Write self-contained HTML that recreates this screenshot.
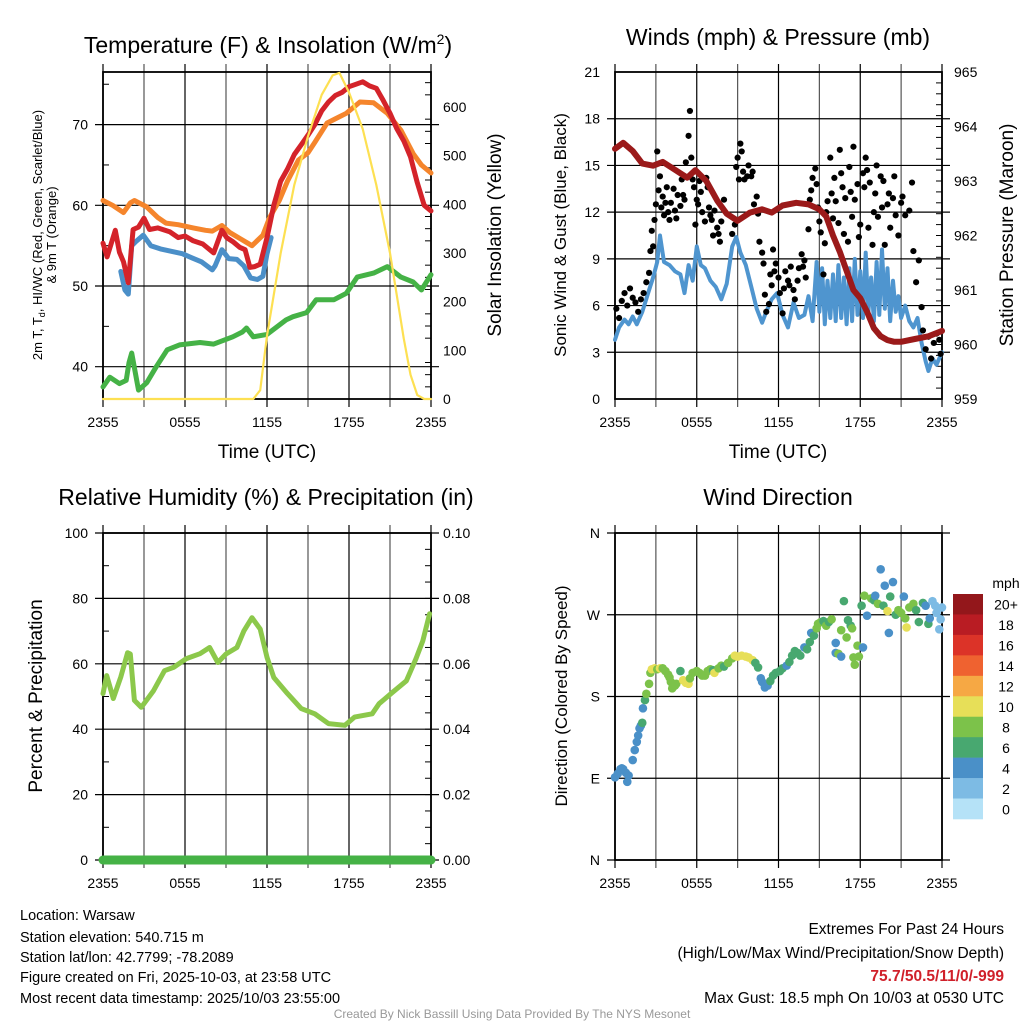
<!DOCTYPE html>
<html><head><meta charset="utf-8">
<style>
html,body{margin:0;padding:0;background:#fff;}
svg{display:block;font-family:"Liberation Sans",sans-serif;}
</style></head>
<body>
<svg id="fig" width="1024" height="1024" viewBox="0 0 1024 1024" xmlns="http://www.w3.org/2000/svg">
<rect width="1024" height="1024" fill="#fff"/>
<g id="layer"></g>
<text x="268" y="53" font-size="23" text-anchor="middle">Temperature (F) &amp; Insolation (W/m<tspan font-size="14" dy="-9">2</tspan><tspan dy="9">)</tspan></text>
<text x="778" y="45" font-size="23" text-anchor="middle">Winds (mph) &amp; Pressure (mb)</text>
<text x="266" y="505" font-size="23" text-anchor="middle">Relative Humidity (%) &amp; Precipitation (in)</text>
<text x="778" y="505" font-size="23" text-anchor="middle">Wind Direction</text>

<text x="267" y="458" font-size="19" text-anchor="middle">Time (UTC)</text>
<text x="778" y="458" font-size="19" text-anchor="middle">Time (UTC)</text>

<text font-size="13" text-anchor="middle" transform="translate(42,235) rotate(-90)">2m T, T<tspan font-size="9" dy="3">d</tspan><tspan dy="-3">, HI/WC (Red, Green, Scarlet/Blue)</tspan></text>
<text font-size="13" text-anchor="middle" transform="translate(56,235) rotate(-90)">&amp; 9m T (Orange)</text>
<text font-size="19" text-anchor="middle" transform="translate(501,235) rotate(-90)">Solar Insolation (Yellow)</text>
<text font-size="17" text-anchor="middle" transform="translate(566,235) rotate(-90)">Sonic Wind &amp; Gust (Blue, Black)</text>
<text font-size="19" text-anchor="middle" transform="translate(1013,235) rotate(-90)">Station Pressure (Maroon)</text>
<text font-size="19" text-anchor="middle" transform="translate(42,696) rotate(-90)">Percent &amp; Precipitation</text>
<text font-size="17" text-anchor="middle" transform="translate(567,696) rotate(-90)">Direction (Colored By Speed)</text>

<g font-size="14.5">
<text x="20" y="920">Location: Warsaw</text>
<text x="20" y="942">Station elevation: 540.715 m</text>
<text x="20" y="962">Station lat/lon: 42.7799; -78.2089</text>
<text x="20" y="982">Figure created on Fri, 2025-10-03, at 23:58 UTC</text>
<text x="20" y="1003">Most recent data timestamp: 2025/10/03 23:55:00</text>
</g>
<g font-size="15.5" text-anchor="end">
<text x="1004" y="934">Extremes For Past 24 Hours</text>
<text x="1004" y="958">(High/Low/Max Wind/Precipitation/Snow Depth)</text>
<text x="1004" y="981" fill="#d0202a" font-weight="bold">75.7/50.5/11/0/-999</text>
<text x="1004" y="1003">Max Gust: 18.5 mph On 10/03 at 0530 UTC</text>
</g>
<text x="512" y="1018" font-size="12" fill="#999" text-anchor="middle">Created By Nick Bassill Using Data Provided By The NYS Mesonet</text>
</svg>
<script>
// ---------- data ----------
const timeLabels = ["2355","0555","1155","1755","2355"];
const tempTicks = [40,50,60,70];
const solTicks = [0,100,200,300,400,500,600];
const windTicks = [0,3,6,9,12,15,18,21];
const presTicks = [959,960,961,962,963,964,965];
const rhTicks = [0,20,40,60,80,100];
const precipTicks = ["0.00","0.02","0.04","0.06","0.08","0.10"];
const dirTicks = ["N","E","S","W","N"];

const redH = [0,0.3,0.9,1.2,1.5,1.85,2.2,2.6,3.0,3.4,4.0,4.9,5.5,6.0,6.6,7.3,8.1,8.7,9.05,9.5,10,10.4,10.75,11.1,11.5,12,12.5,13,13.5,14,14.5,15,15.5,16,16.5,17,17.5,18,18.5,19,19.5,20,20.5,21,21.5,22,22.5,23,23.5,24];
const redT = [55.3,53.6,56.9,54.2,53,50.4,57,57.3,58.4,57,57.2,56.7,56,56.2,55.6,55.2,54.1,56.9,56,55.5,54.8,54.5,52.3,52.4,52.7,56,60,63,64.5,66.3,67.5,68.7,70,71.7,72.8,73.6,74,74.7,75,75.3,74.8,74.5,73,71.4,69.5,68,66,62.8,60,59.3];
const orH = [0,0.7,1.5,2.0,2.3,3.2,4.0,4.6,5.5,6.6,7.5,8.0,8.7,9.3,10,10.9,11.7,12.2,12.9,13.5,14.3,15,15.5,16.4,17.1,17.8,18.8,19.8,20.8,21.8,22.7,23.3,24];
const orT = [60.6,60,59.1,60.3,60.6,59.8,58.5,57.8,57.6,57.2,56.9,56.8,57.5,56.6,55.9,55,56.3,58.5,60.6,63,65.6,66.5,67.8,70.2,70.8,71.4,72.8,72.7,71.4,69.3,66.4,65,64];
const blH = [1.3,1.6,1.85,2.1,2.4,2.95,3.5,4.2,5.0,5.8,6.5,7.2,8.0,8.2,8.7,9.2,9.8,10.3,10.8,11.3,11.7,12.0,12.3];
const blT = [51.8,49.5,49,55,55.5,56.3,55,54.6,54.3,54,53.5,53,52,52.5,54.5,53.4,53.3,52.5,51,50.8,51.2,54,56];
const dewH = [0,0.5,1.2,1.7,1.9,2.1,2.6,3.2,3.9,4.7,5.6,7.1,8.1,9.5,10.2,10.5,11,12,13.4,13.9,14.9,15.6,16.9,17.8,18.6,19.8,20.8,21.8,22.7,23.3,24];
const dewT = [37.5,38.7,37.9,38.3,40.5,41.7,37.1,38,40,42.1,42.7,43,42.8,43.7,44.3,44.8,43.7,44,45.8,46.2,46.7,48.3,48.3,49.1,51.1,51.6,52.4,51.1,50.5,49.5,51.4];
const solH = [0,11,11.5,12,13,14,15,16,16.8,17.3,18,19,20,21,22,22.5,23,23.5,24];
const solW = [0,0,18,130,300,440,540,625,665,670,630,555,440,300,125,50,8,0,0];

const windH = [0,0.3,0.7,1,1.3,1.6,2,2.5,2.8,3.1,3.3,3.6,4,4.4,4.8,5.1,5.4,5.7,6,6.3,6.6,7,7.4,7.8,8.2,8.6,8.9,9.2,9.6,10,10.4,10.8,11.1,11.5,11.9,12.3,12.7,13.1,13.5,13.9,14.2,14.5,14.8,15.0,15.2,15.4,15.6,15.8,16.0,16.2,16.4,16.6,16.8,17.0,17.2,17.4,17.6,17.8,18.0,18.2,18.4,18.6,18.8,19.0,19.2,19.4,19.6,19.8,20.0,20.2,20.4,20.6,20.8,21.0,21.3,21.6,21.9,22.2,22.5,22.8,23.0,23.3,23.6,24];
const windS = [3.8,4.6,5.1,4.8,5.3,4.8,5.6,7,7.8,8.8,10.5,8.8,8.6,8.2,8.0,6.8,8.6,7.6,9.8,8.6,8.4,7.6,7.2,6.4,7.4,9.8,10.4,9.4,8.6,7.2,5.8,4.9,5.6,6.4,6.8,5.4,4.6,6.2,5.2,5.4,6.6,5.0,8.8,5.6,8.4,4.8,7.6,5.2,8.0,5.0,8.6,5.2,7.8,4.8,8.4,5.0,9.0,5.4,8.2,5.2,9.4,5.6,7.8,5.0,8.8,5.4,9.6,5.8,8.4,5.0,7.6,5.6,6.6,5.2,6.0,5.0,4.6,5.2,3.6,2.4,1.8,2.6,2.2,3.0];
const gustH = [0.1,0.3,0.5,0.7,0.9,1.1,1.3,1.5,1.7,1.9,2.1,2.3,2.5,2.6,2.7,2.8,2.9,3.0,3.1,3.2,3.3,3.4,3.5,3.6,3.7,3.8,3.9,4.0,4.1,4.3,4.4,4.5,4.6,4.8,4.9,5.0,5.1,5.2,5.4,5.5,5.6,5.7,5.8,5.9,6.0,6.1,6.2,6.3,6.4,6.6,6.7,6.8,6.9,7.0,7.1,7.2,7.3,7.5,7.6,7.7,7.8,8.0,8.6,8.8,8.9,9.0,9.1,9.2,9.3,9.4,9.5,9.7,9.8,10.0,10.1,10.2,10.4,10.5,10.6,10.8,10.9,11.0,11.1,11.3,11.4,11.5,11.6,11.7,11.8,12.0,12.1,12.3,12.4,12.5,12.7,12.8,12.9,13.1,13.2,13.4,13.5,13.7,13.8,13.9,14.0,14.2,14.3,14.4,14.5,14.7,14.8,14.9,15.0,15.1,15.3,15.4,15.5,15.6,15.8,15.9,16.0,16.1,16.2,16.4,16.5,16.6,16.7,16.8,16.9,17.1,17.2,17.3,17.4,17.5,17.6,17.8,17.9,18.0,18.2,18.3,18.4,18.5,18.6,18.7,18.9,19.0,19.1,19.2,19.3,19.5,19.6,19.7,19.8,20.0,20.1,20.2,20.4,20.5,20.6,20.8,21.0,21.1,21.3,21.6,21.8,21.9,22.1,22.3,22.5,22.6,22.8,23.0,23.2,23.4,23.6,23.8,23.9];
const gustS = [5.8,5.2,6.3,6.8,6.0,7.1,6.5,6.2,5.6,6.4,6.8,7.5,8.1,9.5,10.8,9.8,11.5,12.5,15.9,13.4,14.3,12.3,13.0,11.8,12.6,13.6,12.0,11.5,12.6,13.5,12.1,11.6,13.1,12.4,14.1,13.1,12.8,15.2,16.9,18.5,15.5,14.1,13.6,11.2,12.8,12.5,14.0,13.3,12.0,11.4,14.2,13.6,12.3,11.8,11.5,10.5,12.1,11.0,10.6,10.1,11.4,12.8,10.6,11.2,14.9,15.5,14.1,16.4,15.9,14.6,14.1,14.3,15.0,14.3,14.6,12.5,13.0,11.9,10.1,9.4,8.7,6.7,5.6,6.1,8.0,7.3,9.6,8.2,8.7,7.8,6.8,5.5,7.1,8.2,7.6,7.3,8.5,7.0,6.4,7.6,8.4,9.3,8.5,8.9,7.8,10.9,12.8,13.4,14.2,14.8,13.8,12.3,11.4,10.7,8.0,10.0,12.0,12.7,15.5,13.2,11.6,14.2,12.7,11.3,16.0,14.5,13.6,10.6,12.9,10.1,14.9,13.3,11.7,16.2,12.8,13.8,10.4,11.2,14.5,13.6,15.5,14.7,11.0,13.9,9.9,12.0,13.2,15.0,11.7,14.3,12.3,14.0,9.9,12.5,13.2,11.0,12.9,14.3,11.8,10.5,12.6,13.0,11.8,12.1,13.9,9.5,7.5,8.9,5.9,4.4,3.2,4.0,2.6,3.6,4.2,3.8,2.9,4.3,3.8];
const presH = [0,0.6,1.3,2.0,2.8,3.5,4.5,5.3,5.9,6.7,7.5,8.2,9.0,9.9,10.8,11.5,12.3,13.3,14.2,15,15.5,16,16.5,17,17.5,18,18.5,19,19.5,20,20.5,21,22,23,24];
const presMb = [963.59,963.70,963.55,963.32,963.28,963.35,963.19,963.06,963.2,963.0,962.64,962.40,962.27,962.42,962.48,962.42,962.55,962.6,962.57,962.48,962.35,962.0,961.7,961.35,961.0,960.85,960.6,960.3,960.15,960.08,960.05,960.05,960.1,960.15,960.25];

const rhH = [0,0.27,0.75,1.3,1.8,2.0,2.3,2.8,3.7,4.5,5.2,6.1,7.1,7.8,8.4,9.0,9.8,10.3,10.9,11.5,12,12.5,13.5,14.5,15.5,16.5,17.7,18.4,19.7,20.2,21.2,22.2,22.9,23.4,23.9];
const rhP = [50.9,56.4,49.4,56,63.4,63,48.8,46.7,51.8,57.9,59,61.6,63.1,65,60.4,63,65,70,74.1,70.6,62,55.8,50.9,46.3,44.7,41.7,41.2,43.7,44.7,47.8,51.3,54.8,61.6,67,75.3];
const precipH = [0,24];
const precipIn = [0,0];

const dirH = [0.0,0.2,0.4,0.5,0.6,0.8,0.9,1.0,1.3,1.45,1.6,1.7,1.8,1.9,2.0,2.05,2.2,2.3,2.5,2.6,2.7,2.9,3.1,3.3,3.5,3.7,3.9,4.0,4.1,4.2,4.4,4.5,4.8,5.0,5.2,5.4,5.5,5.7,6.0,6.2,6.4,6.6,6.8,7.0,7.2,7.3,7.6,7.8,8.0,8.3,8.6,8.8,9.0,9.3,9.6,9.8,10.1,10.3,10.5,10.7,10.8,11.0,11.2,11.4,11.6,11.8,12.1,12.3,12.6,12.8,13.0,13.2,13.4,13.6,13.9,14.1,14.3,14.4,14.6,14.8,14.9,15.1,15.3,15.5,15.7,15.9,16.2,16.2,16.4,16.6,16.6,16.8,17.0,17.1,17.3,17.4,17.5,17.6,17.8,17.9,18.1,18.2,18.3,18.5,18.8,19.0,19.1,19.3,19.5,19.7,19.8,20.0,20.1,20.2,20.4,20.6,20.8,21.0,21.2,21.3,21.4,21.6,21.9,22.1,22.3,22.6,22.8,23.0,23.1,23.3,23.5,23.6,23.8,23.9,24.0];
const dirDeg = [91,95,100,101,100,96,86,93,110,121,130,137,145,148,151,167,176,183,194,206,210,211,210,211,211,208,204,201,196,189,192,194,208,198,195,194,200,206,208,206,203,203,208,210,209,206,211,214,213,217,222,225,224,225,224,223,220,217,212,200,196,190,192,197,203,206,208,211,214,218,225,230,228,225,234,232,240,250,247,255,260,262,263,258,262,265,239,228,227,224,253,285,245,264,258,255,223,215,236,224,280,234,291,269,288,286,291,282,320,280,302,274,250,290,306,270,275,272,290,266,256,278,282,275,262,283,280,260,266,285,280,272,254,265,278];
const dirSpd = [4,4,4,4,4,4,4,4,4,4,4,4,4,4,7,5,7,8,9,9,10,10,9,11,9,9,8,8,9,8,8,9,7,10,11,10,9,8,8,8,9,8,8,9,7,10,8,8,7,8,9,11,10,11,10,10,11,7,7,5,5,5,5,7,7,7,7,7,5,7,7,7,7,7,5,7,7,5,7,8,8,8,7,8,7,8,5,5,8,5,8,7,8,7,7,8,8,8,8,8,7,5,8,5,8,7,5,8,5,7,5,10,5,7,5,7,8,8,5,8,10,8,8,7,7,7,5,7,5,3,3,3,3,3,3];
const speedLabels = ["20+","18","16","14","12","10","8","6","4","2","0"];
const speedColors = ["#93171b","#b91c23","#dc3328","#ef6230","#f6a844","#e7df58","#7cc24a","#48a870","#4a90c8","#7dbbe4","#b5e2f7"];

// ---------- helpers ----------
const NS = "http://www.w3.org/2000/svg";
const layer = document.getElementById("layer");
function mk(tag, attrs, parent){
  const e = document.createElementNS(NS, tag);
  for (const k in attrs) e.setAttribute(k, attrs[k]);
  (parent||layer).appendChild(e);
  return e;
}
function scale(d0,d1,r0,r1){ return v => r0 + (v-d0)/(d1-d0)*(r1-r0); }
function linePath(xs, ys, sx, sy){
  const n = Math.min(xs.length, ys.length);
  let d = "";
  for (let i=0;i<n;i++) d += (i?"L":"M") + sx(xs[i]).toFixed(1) + "," + sy(ys[i]).toFixed(1);
  return d;
}
function addText(x,y,str,size,anchor,name){
  const t = mk("text",{x:x,y:y,"font-size":size,"text-anchor":anchor});
  t.textContent = str;
  
  
  return t;
}

function panel(name, L, T, R, B){
  const g = mk("g",{});
  
  
  return {g, L, T, R, B, sx: scale(0,24,L,R)};
}
function drawGrid(p, yVals, sy, leftLabels, rightVals, syR, rightLabels, minorR){
  const grid = mk("g",{stroke:"#000","stroke-width":"1.2"}, p.g);
  
  
  for (let h=0; h<=24; h+=3){
    const x = p.sx(h);
    mk("line",{x1:x,y1:p.T-8,x2:x,y2:p.B+8,stroke:(h%6===3?"#555":"#000")}, grid);
  }
  yVals.forEach(v=>{ const y=sy(v); mk("line",{x1:p.L-8,y1:y,x2:p.R+8,y2:y}, grid); });
  mk("rect",{x:p.L,y:p.T,width:p.R-p.L,height:p.B-p.T,fill:"none",stroke:"#000","stroke-width":"1.8"}, p.g);
  if (minorR){
    minorR.forEach(v=>{ const y=syR(v); mk("line",{x1:p.R-6,y1:y,x2:p.R,y2:y,stroke:"#000","stroke-width":"1"}, p.g); });
  }
  for (let h=0; h<=24; h+=6){
    addText(p.sx(h), p.B+28, timeLabels[h/6], 14, "middle", "x-tick-label");
  }
  yVals.forEach((v,i)=> addText(p.L-15, sy(v)+5, leftLabels[i], 14, "end", "left-tick-label"));
  if (rightVals) rightVals.forEach((v,i)=> addText(p.R+12, syR(v)+5, rightLabels[i], 14, "start", "right-tick-label"));
}

// ---------- Panel 1: temperature ----------
{
  const p = panel("temperature-panel",103,72,431,399);
  const sy = scale(50,60,286,205.3);
  const syR = scale(0,600,399,107);
  const minor=[]; for(let v=25; v<=650; v+=25) if(v%100) minor.push(v);
  drawGrid(p, tempTicks, sy, tempTicks.map(String), solTicks, syR, solTicks.map(String), minor);
  [45,55,65,75].forEach(v=>{ mk("line",{x1:p.L,y1:sy(v),x2:p.L+6,y2:sy(v),stroke:"#000"},p.g); });
  const style = {fill:"none","stroke-linejoin":"round","stroke-linecap":"round"};
  let e;
  e = mk("path",Object.assign({d:linePath(orH,orT,p.sx,sy),stroke:"#f5852c","stroke-width":"5"},style),p.g);
   
  e = mk("path",Object.assign({d:linePath(blH,blT,p.sx,sy),stroke:"#4b8fc8","stroke-width":"5"},style),p.g);
   
  e = mk("path",Object.assign({d:linePath(redH,redT,p.sx,sy),stroke:"#d4232a","stroke-width":"5"},style),p.g);
   
  e = mk("path",Object.assign({d:linePath(dewH,dewT,p.sx,sy),stroke:"#45b246","stroke-width":"5"},style),p.g);
   
  e = mk("path",Object.assign({d:linePath(solH,solW,p.sx,syR),stroke:"#fde052","stroke-width":"2.2"},style),p.g);
   
}

// ---------- Panel 2: winds ----------
{
  const p = panel("winds-panel",615,72,942,399);
  const sy = scale(0,21,399,72);
  const syR = scale(959,965,399,72);
  const minor=[]; for(let v=959.2; v<965; v+=0.2) minor.push(v);
  drawGrid(p, windTicks.slice(1,7), sy, windTicks.slice(1,7).map(String), presTicks, syR, presTicks.map(String), minor);
  addText(p.L-15, sy(0)+5, "0", 14, "end", "left-tick-label");
  addText(p.L-15, sy(21)+5, "21", 14, "end", "left-tick-label");
  const style = {fill:"none","stroke-linejoin":"round","stroke-linecap":"round"};
  let e = mk("path",Object.assign({d:linePath(windH,windS,p.sx,sy),stroke:"#4f95cf","stroke-width":"4"},style),p.g);
   
  const n = Math.min(gustH.length, gustS.length);
  for (let i=0;i<n;i++){
    const c = mk("circle",{cx:p.sx(gustH[i]),cy:sy(gustS[i]),r:3.1,fill:"#000"},p.g);
    
    
  }
  e = mk("path",Object.assign({d:linePath(presH,presMb,p.sx,syR),stroke:"#9b1a1a","stroke-width":"6"},style),p.g);
   
}

// ---------- Panel 3: humidity ----------
{
  const p = panel("humidity-panel",103,533,431,860);
  const sy = scale(0,100,860,533);
  const syR = scale(0,0.1,860,533);
  const rv = [0,0.02,0.04,0.06,0.08,0.1];
  const minor=[]; for(let v=0.005; v<0.1; v+=0.005) minor.push(v);
  drawGrid(p, rhTicks, sy, rhTicks.map(String), rv, syR, precipTicks, minor);
  [10,30,50,70,90].forEach(v=>{ mk("line",{x1:p.L,y1:sy(v),x2:p.L+6,y2:sy(v),stroke:"#000"},p.g); });
  const style = {fill:"none","stroke-linejoin":"round","stroke-linecap":"round"};
  let e = mk("path",Object.assign({d:linePath(rhH,rhP,p.sx,sy),stroke:"#8cc84b","stroke-width":"5"},style),p.g);
   
  e = mk("path",Object.assign({d:linePath(precipH,precipIn,p.sx,syR),stroke:"#45b246","stroke-width":"9"},style),p.g);
   
}

// ---------- Panel 4: wind direction ----------
{
  const p = panel("wind-direction-panel",615,533,942,860);
  const sy = scale(0,360,860,533);
  const dv = [0,90,180,270,360];
  drawGrid(p, dv, sy, dirTicks, null, null, null, null);
  const n = Math.min(dirH.length, dirDeg.length, dirSpd.length);
  for (let i=0;i<n;i++){
    const bin = Math.min(10, Math.floor(dirSpd[i]/2));
    const c = mk("circle",{cx:p.sx(dirH[i]),cy:sy(dirDeg[i]),r:4.3,fill:speedColors[10-bin]},p.g);
    
    
  }
  const cb = mk("g",{});
  
  
  const bh = 225/11;
  speedLabels.forEach((lab,i)=>{
    const r = mk("rect",{x:953,y:594+i*bh,width:30,height:bh+0.3,fill:speedColors[i]},cb);
    
    
    addText(1006, 594+i*bh+bh/2+5.5, lab, 14, "middle", "colorbar-label");
  });
  addText(1006, 588, "mph", 14, "middle", "colorbar-units");
}
</script>
</body></html>
